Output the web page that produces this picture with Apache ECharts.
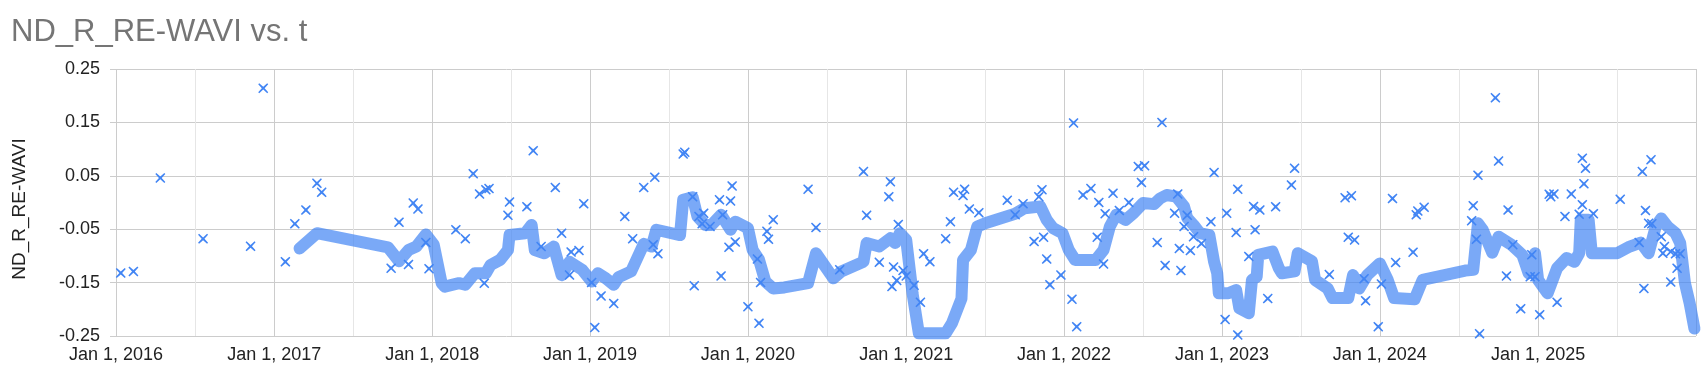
<!DOCTYPE html>
<html>
<head>
<meta charset="utf-8">
<script src="https://cdn.jsdelivr.net/npm/echarts@6/dist/echarts.min.js"></script>
<style>
html,body{margin:0;padding:0;background:#fff;}
#chart{width:1705px;height:391px;}
</style>
</head>
<body>
<div id="chart"></div>
<script>
// Decimal-year time values and ND_R_RE-WAVI values
const scatterT = [2016.03,2016.11,2016.28,2016.55,2016.85,2016.93,2017.07,2017.13,2017.20,2017.27,2017.30,2017.74,2017.79,2017.85,2017.88,2017.91,2017.96,2017.98,
2018.15,2018.21,2018.26,2018.30,2018.34,2018.36,2018.33,2018.49,2018.48,2018.60,2018.64,2018.69,2018.78,2018.82,2018.88,2018.93,2018.96,2018.87,2019.01,2019.03,2019.07,2019.15,
2019.22,2019.27,2019.34,2019.41,2019.40,2019.43,2019.59,2019.60,2019.66,2019.65,2019.69,2019.72,2019.71,2019.76,2019.82,2019.89,2019.90,2019.84,2019.83,2019.88,2019.92,2020.00,2020.06,2020.07,2020.08,2020.12,2020.16,2020.13,
2020.38,2020.43,2020.58,2020.73,2020.75,2020.83,2020.90,2020.89,2020.95,2020.92,2020.94,2020.91,2020.98,2021.00,2021.05,2021.09,2021.11,2021.15,2021.25,2021.28,2021.30,
2021.37,2021.36,2021.40,2021.46,2021.64,2021.69,2021.74,2021.84,2021.86,2021.81,2021.87,2021.89,2021.91,2021.98,2022.05,2022.06,2022.08,2022.12,2022.17,2022.22,2022.26,2022.31,2022.35,2022.21,2022.25,
2022.41,2022.47,2022.51,2022.49,2022.62,2022.72,2022.70,2022.78,2022.76,2022.59,2022.64,2022.73,2022.80,2022.82,2022.74,2022.87,2022.93,2022.95,2023.02,2023.10,2023.03,2023.10,2023.09,2023.17,2023.20,2023.24,2023.21,2023.29,2023.34,2023.44,2023.46,
2023.78,2023.82,2023.80,2023.84,2023.68,2023.90,2023.91,2024.01,2023.99,2024.08,2024.10,2024.21,2024.23,2024.24,2024.28,
2024.58,2024.59,2024.61,2024.62,2024.63,2024.73,2024.75,2024.80,2024.81,2024.84,2024.89,2024.95,2024.96,2024.98,2025.01,2025.07,2025.08,2025.10,2025.12,2025.17,2025.21,2025.26,2025.28,2025.29,2025.28,2025.30,2025.35,2025.52,
2025.64,2025.66,2025.67,2025.68,2025.70,2025.715,2025.72,2025.78,2025.79,2025.80,2025.84,2025.84,2025.87,2025.88,2025.90];
const scatterV = [-0.132,-0.129,0.046,-0.068,-0.082,0.214,-0.111,-0.040,-0.014,0.036,0.019,-0.123,-0.037,-0.116,-0.001,-0.012,-0.075,-0.124,
-0.051,-0.068,0.054,0.016,0.024,0.026,-0.151,0.001,-0.024,-0.008,0.097,-0.0825,0.028,-0.0575,-0.0925,-0.090,-0.0025,-0.136,-0.150,-0.234,-0.175,-0.189,
-0.026,-0.068,0.028,0.0475,-0.079,-0.096,0.091,0.094,-0.156,0.0106,-0.026,-0.020,-0.040,-0.045,0.005,0.003,0.031,-0.023,-0.1375,-0.084,-0.074,-0.195,-0.106,-0.226,-0.150,-0.054,-0.0325,-0.069,
0.025,-0.047,-0.126,0.058,-0.024,-0.112,0.039,0.011,-0.041,-0.121,-0.146,-0.1575,-0.1275,-0.1375,-0.155,-0.187,-0.096,-0.111,-0.068,-0.036,0.019,
0.025,0.013,-0.012,-0.019,0.004,-0.023,-0.0025,0.011,0.024,-0.073,-0.065,-0.106,-0.154,-0.136,-0.181,0.149,-0.2325,0.014,0.026,0.000,-0.021,0.0175,-0.015,-0.065,-0.115,
0.000,0.0675,0.069,0.0375,0.150,0.016,-0.020,-0.024,-0.045,-0.075,-0.118,-0.086,-0.090,-0.064,-0.1275,-0.077,-0.036,0.056,-0.219,-0.248,-0.020,0.025,-0.056,-0.101,-0.0075,-0.014,-0.051,-0.180,-0.008,0.033,0.064,
0.009,0.0125,-0.065,-0.070,-0.135,-0.143,-0.184,-0.1525,-0.2325,0.0075,-0.1125,-0.093,-0.023,-0.016,-0.009,
-0.034,-0.006,-0.069,0.051,-0.246,0.196,0.0775,-0.1375,-0.014,-0.079,-0.199,-0.139,-0.098,-0.139,-0.210,0.0156,0.011,0.016,-0.187,-0.026,0.016,-0.022,-0.004,0.035,0.083,0.064,-0.021,0.006,
-0.075,0.058,-0.161,-0.015,-0.039,0.080,-0.040,-0.064,-0.095,-0.0825,-0.092,-0.149,-0.096,-0.123,-0.096];

const trendT = [2017.16,2017.27,2017.72,2017.79,2017.85,2017.90,2017.96,2018.01,2018.06,2018.08,2018.17,2018.21,2018.27,2018.34,2018.37,2018.43,2018.48,2018.49,2018.59,2018.63,2018.65,2018.71,2018.77,2018.82,2018.87,2018.95,2019.01,2019.05,
2019.10,2019.15,2019.18,2019.26,2019.34,2019.39,2019.42,2019.57,2019.59,2019.65,2019.68,2019.73,2019.77,2019.83,2019.89,2019.92,2020.00,2020.03,2020.07,2020.11,2020.16,2020.23,
2020.38,2020.43,2020.54,2020.59,2020.73,2020.75,2020.83,2020.90,2020.93,2020.96,2021.00,2021.04,2021.08,2021.14,2021.25,2021.29,2021.35,2021.36,2021.41,2021.45,2021.50,2021.69,2021.75,2021.85,2021.89,2021.93,2021.99,2022.03,2022.07,2022.20,2022.25,2022.29,2022.33,2022.39,
2022.44,2022.50,2022.57,2022.61,2022.65,2022.71,2022.76,2022.78,2022.82,2022.86,2022.92,2022.95,2022.97,2022.98,2023.04,2023.09,2023.11,2023.17,2023.19,2023.22,2023.23,2023.32,2023.36,2023.38,2023.46,
2023.48,2023.57,2023.59,2023.67,2023.70,2023.80,2023.83,2023.87,2023.92,2024.00,2024.05,2024.09,2024.22,2024.27,2024.54,
2024.59,2024.62,2024.65,2024.71,2024.75,2024.83,2024.90,2024.94,2024.98,2025.00,2025.06,2025.12,2025.18,2025.23,2025.26,2025.27,2025.32,2025.34,2025.50,
2025.58,2025.65,2025.70,2025.745,2025.78,2025.82,2025.87,2025.90,2025.93,2025.96,2025.99];
const trendV = [-0.086,-0.0575,-0.084,-0.110,-0.089,-0.0825,-0.060,-0.079,-0.151,-0.1575,-0.151,-0.154,-0.1325,-0.1325,-0.117,-0.1075,-0.089,-0.061,-0.0575,-0.042,-0.089,-0.095,-0.0825,-0.136,-0.111,-0.126,-0.148,-0.1325,
-0.142,-0.154,-0.140,-0.129,-0.0775,-0.0825,-0.051,-0.061,0.005,0.010,-0.026,-0.042,-0.042,-0.023,-0.051,-0.036,-0.048,-0.089,-0.107,-0.148,-0.161,-0.159,
-0.151,-0.095,-0.142,-0.129,-0.111,-0.076,-0.0825,-0.067,-0.076,-0.0575,-0.070,-0.170,-0.245,-0.245,-0.245,-0.226,-0.180,-0.1075,-0.089,-0.045,-0.039,-0.021,-0.0106,-0.0075,-0.0325,-0.048,-0.0575,-0.089,-0.1075,-0.1075,-0.089,-0.045,-0.023,-0.0325,
-0.020,-0.001,-0.003,0.008,0.014,0.011,-0.0075,-0.029,-0.042,-0.0575,-0.061,-0.111,-0.1325,-0.170,-0.170,-0.164,-0.198,-0.2075,-0.145,-0.139,-0.098,-0.092,-0.123,-0.1325,-0.129,
-0.095,-0.110,-0.145,-0.161,-0.179,-0.179,-0.136,-0.161,-0.136,-0.114,-0.145,-0.179,-0.181,-0.145,-0.1275,
-0.126,-0.039,-0.051,-0.094,-0.064,-0.079,-0.098,-0.1325,-0.095,-0.145,-0.170,-0.123,-0.104,-0.111,-0.095,-0.0325,-0.0325,-0.095,-0.095,
-0.0825,-0.075,-0.095,-0.045,-0.030,-0.045,-0.0575,-0.076,-0.151,-0.189,-0.236];

const majorYears = [2016,2017,2018,2019,2020,2021,2022,2023,2024,2025,2026];
const labelYears = [2016,2017,2018,2019,2020,2021,2022,2023,2024,2025];
const minorYears = [2016.5,2017.5,2018.5,2019.5,2020.5,2021.5,2022.5,2023.5,2024.5,2025.5];

function ts(y){
  const Y = Math.floor(y);
  const a = Date.UTC(Y,0,1), b = Date.UTC(Y+1,0,1);
  return a + (y - Y) * (b - a);
}
const xMin = ts(2015.962), xMax = ts(2026.0);
const scatterData = scatterT.map((t,i)=>[ts(t), scatterV[i]]);
const trendData = trendT.map((t,i)=>[ts(t), trendV[i]]);

const FONT = 'Liberation Sans, Arial, sans-serif';
const chart = echarts.init(document.getElementById('chart'), null, {renderer:'canvas'});
chart.setOption({
  animation: false,
  backgroundColor: '#ffffff',
  title: {
    text: 'ND_R_RE-WAVI vs. t',
    left: 6, top: 12,
    textStyle: {fontFamily: FONT, fontSize: 31, fontWeight: 'normal', color: '#757575'}
  },
  graphic: [{
    type: 'text', x: 20, y: 209, rotation: Math.PI/2,
    style: {text: 'ND_R_RE-WAVI', fontFamily: FONT, fontSize: 19, fill: '#222222', align: 'center', verticalAlign: 'middle'}
  }],
  grid: {left: 110, right: 9, top: 69, bottom: 55, containLabel: false},
  xAxis: [{
    type: 'value', min: xMin, max: xMax,
    axisLine: {show: false},
    axisTick: {show: false, customValues: majorYears.map(ts)},
    splitLine: {show: true, lineStyle: {color: '#cccccc', width: 1}},
    axisLabel: {
      customValues: labelYears.map(ts),
      formatter: v => 'Jan 1, ' + new Date(v).getUTCFullYear(),
      fontFamily: FONT, fontSize: 18, color: '#222222', margin: 10
    },
    z: 1
  }, {
    type: 'value', min: xMin, max: xMax, position: 'bottom',
    axisLine: {show: false},
    axisTick: {show: false, customValues: minorYears.map(ts)},
    axisLabel: {show: false},
    splitLine: {show: true, lineStyle: {color: '#e6e6e6', width: 1}},
    z: 0
  }],
  yAxis: {
    type: 'value', min: -0.25, max: 0.25, interval: 0.1,
    axisLine: {show: false}, axisTick: {show: false},
    splitLine: {show: true, lineStyle: {color: '#cccccc', width: 1}},
    axisLabel: {formatter: v => v.toFixed(2), fontFamily: FONT, fontSize: 18, color: '#222222', margin: 10}
  },
  series: [{
    type: 'line', xAxisIndex: 0, data: trendData,
    showSymbol: false, symbol: 'none', z: 2, clip: true,
    lineStyle: {width: 12, color: 'rgba(66,133,244,0.7)', cap: 'round', join: 'round'}
  }, {
    type: 'scatter', xAxisIndex: 0, data: scatterData, z: 3,
    symbol: 'path://M1,0 L5,3.6 L9,0 L10,1 L6.4,5 L10,9 L9,10 L5,6.4 L1,10 L0,9 L3.6,5 L0,1 Z',
    symbolSize: 10,
    itemStyle: {color: '#4285f4', opacity: 1}
  }]
});
</script>
</body>
</html>
